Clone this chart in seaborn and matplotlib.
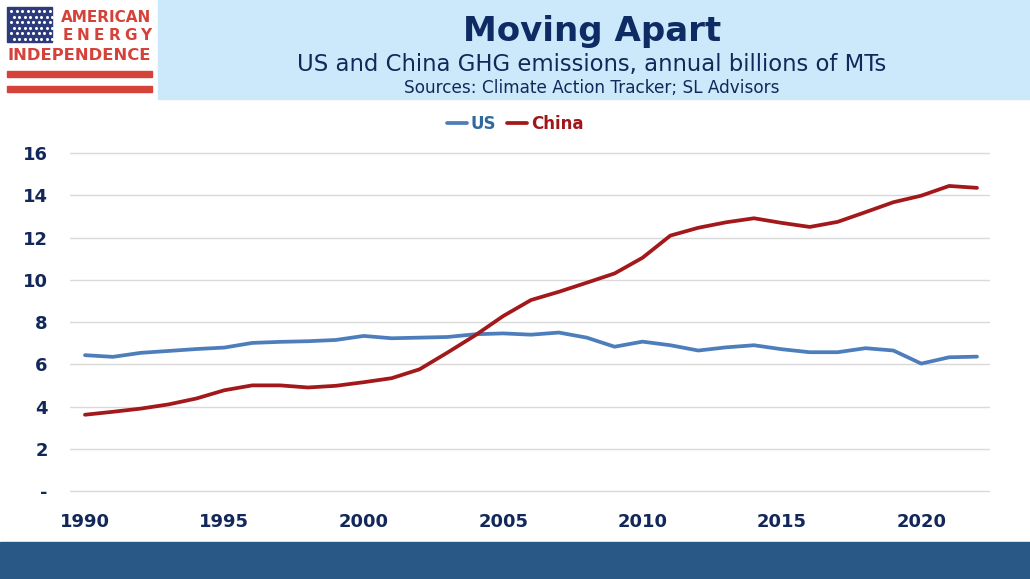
import matplotlib
matplotlib.use("Agg")
import matplotlib.pyplot as plt
import matplotlib.patches as mpatches
from matplotlib.lines import Line2D
import numpy as np
import pandas as pd
import seaborn as sns

# ---- data ----
years = list(range(1990, 2023))
us = [6.43, 6.35, 6.54, 6.63, 6.72, 6.79, 7.01, 7.06, 7.09, 7.15, 7.34, 7.23, 7.26, 7.29, 7.42,
      7.46, 7.40, 7.50, 7.26, 6.83, 7.07, 6.90, 6.65, 6.80, 6.90, 6.71, 6.57, 6.57, 6.76, 6.65,
      6.03, 6.33, 6.36]
china = [3.61, 3.75, 3.90, 4.10, 4.38, 4.77, 5.00, 5.00, 4.90, 4.98, 5.15, 5.34, 5.76, 6.55, 7.37,
         8.28, 9.04, 9.43, 9.86, 10.30, 11.04, 12.09, 12.46, 12.72, 12.91, 12.69, 12.50, 12.74,
         13.20, 13.67, 13.98, 14.44, 14.35]
series_names = ["US", "China"]
x_ticks = [1990, 1995, 2000, 2005, 2010, 2015, 2020]
y_ticks = [0, 2, 4, 6, 8, 10, 12, 14, 16]
y_tick_labels = ["-", "2", "4", "6", "8", "10", "12", "14", "16"]
title = "Moving Apart"
subtitle = "US and China GHG emissions, annual billions of MTs"
sources = "Sources: Climate Action Tracker; SL Advisors"

df = pd.DataFrame({"Year": years * 2,
                   "Value": us + china,
                   "Series": ["US"] * len(years) + ["China"] * len(years)})

# ---- style ----
sns.set_theme(style="white")
plt.rcParams["font.family"] = ["DejaVu Sans"]

W, H = 1030, 579
fig = plt.figure(figsize=(W / 100, H / 100), dpi=100)

def fx(px):
    return px / W

def fy(py):
    return 1 - py / H

colors = {"US": "#4d7ebb", "China": "#a3181b"}
navy = "#13285a"

# axes: x from 70 to 990 px, y 16 at 153px, 0 at 491px
y_top_px, y_bot_px = 153, 491
ppu = (y_bot_px - y_top_px) / 16.0
ylo, yhi = -0.1, 16.1
ax_top = y_top_px - (yhi - 16) * ppu
ax_bot = y_bot_px + (0 - ylo) * ppu
ax = fig.add_axes([fx(70), fy(ax_bot), fx(920), (ax_bot - ax_top) / H])

sns.lineplot(data=df, x="Year", y="Value", hue="Series", palette=colors,
             hue_order=series_names, linewidth=2.7, ax=ax, legend=False)

ppx = 27.875
ax.set_xlim(1990 - 15 / ppx, 2022 + 13 / ppx)
ax.set_ylim(ylo, yhi)
ax.set_xticks(x_ticks)
ax.set_yticks(y_ticks)
ax.set_yticklabels(y_tick_labels)
ax.set_xlabel("")
ax.set_ylabel("")
for s in ax.spines.values():
    s.set_visible(False)
ax.grid(axis="y", color="#d9d9d9", linewidth=1.0)
ax.grid(axis="x", visible=False)
ax.set_axisbelow(True)
ax.tick_params(axis="y", length=0, pad=16, labelsize=13, labelcolor=navy)
ax.tick_params(axis="x", length=0, pad=14, labelsize=13, labelcolor=navy)
for lab in ax.get_xticklabels() + ax.get_yticklabels():
    lab.set_fontweight("bold")

# legend
handles = [Line2D([0], [0], color=colors[n], lw=2.7) for n in series_names]
leg = fig.legend(handles, series_names, loc="center", bbox_to_anchor=(fx(515), fy(124)),
                 ncol=2, frameon=False, handlelength=1.2, handletextpad=0.2,
                 columnspacing=0.7, prop={"weight": "bold", "size": 12})
leg.get_texts()[0].set_color("#2f6a9e")
leg.get_texts()[1].set_color("#a0161b")

# header box
fig.patches.append(mpatches.Rectangle((fx(158), fy(99)), fx(W - 158), 99 / H,
                                      transform=fig.transFigure, color="#cce8fb", zorder=0))
fig.text(fx(592), fy(31), title, ha="center", va="center", fontsize=24.5,
         fontweight="bold", color="#0f2b63")
fig.text(fx(592), fy(64), subtitle, ha="center", va="center", fontsize=16.4, color=navy)
fig.text(fx(592), fy(88), sources, ha="center", va="center", fontsize=12.2, color=navy)

# footer band
fig.patches.append(mpatches.Rectangle((0, 0), 1, (H - 542) / H,
                                      transform=fig.transFigure, color="#2a5886", zorder=0))

# logo
red = "#d5423a"
fig.patches.append(mpatches.Rectangle((fx(7), fy(42)), fx(45), 35 / H,
                                      transform=fig.transFigure, color="#2b3b7c", zorder=1))
sx, sy = [], []
for r in range(6):
    for c in range(8):
        sx.append(fx(11 + c * 5.5 + (2.7 if r % 2 else 0)))
        sy.append(fy(11 + r * 5.6))
fig.add_artist(Line2D(sx, sy, transform=fig.transFigure, ls="none", marker="o",
                      ms=1.2, mfc="white", mec="white", zorder=2))
fig.text(fx(106), fy(17), "AMERICAN", ha="center", va="center", fontsize=11,
         fontweight="bold", color=red)
energy = "ENERGY"
for i, ch in enumerate(energy):
    fig.text(fx(67.5 + i * 15.7), fy(36), ch, ha="center", va="center", fontsize=11,
             fontweight="bold", color=red)
fig.text(fx(79), fy(55), "INDEPENDENCE", ha="center", va="center", fontsize=11.8,
         fontweight="bold", color=red)
for yy in (74, 89):
    fig.patches.append(mpatches.Rectangle((fx(7), fy(yy + 3)), fx(145), 6 / H,
                                          transform=fig.transFigure, color=red, zorder=1))

fig.savefig("out.png", dpi=100)
